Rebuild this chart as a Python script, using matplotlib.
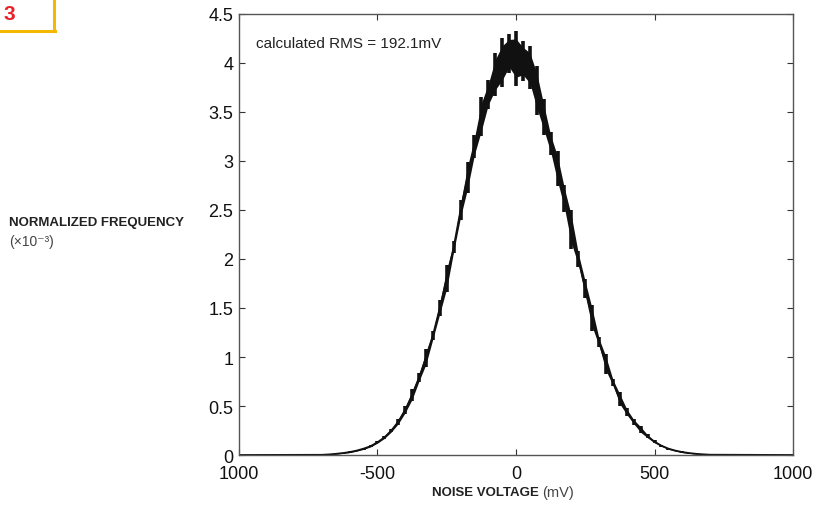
import numpy as np
import matplotlib
matplotlib.use('Agg')
import matplotlib.pyplot as plt

plt.rcParams['font.family'] = ['Liberation Sans', 'DejaVu Sans']

# noise histogram (x in mV, y in 1e-3)
volts = list(range(-700, 725, 25))
freq = [0.002, 0.006, 0.012, 0.02, 0.03, 0.045, 0.065, 0.09, 0.13, 0.18,
        0.25, 0.34, 0.46, 0.61, 0.79, 0.99, 1.22, 1.5, 1.8, 2.12,
        2.5, 2.83, 3.15, 3.45, 3.68, 3.88, 4.0, 4.1, 4.05, 4.02,
        3.95, 3.72, 3.45, 3.18, 2.92, 2.62, 2.3, 2.0, 1.7, 1.4,
        1.15, 0.93, 0.74, 0.57, 0.44, 0.34, 0.26, 0.19, 0.135, 0.095,
        0.065, 0.045, 0.03, 0.02, 0.012, 0.007, 0.003]
# half height of the jagged band around the curve
spread = [0.005, 0.005, 0.005, 0.005, 0.008, 0.008, 0.01, 0.01, 0.012, 0.015,
          0.02, 0.03, 0.04, 0.06, 0.05, 0.09, 0.05, 0.08, 0.14, 0.06,
          0.1, 0.16, 0.12, 0.2, 0.15, 0.22, 0.25, 0.2, 0.28, 0.2,
          0.22, 0.25, 0.18, 0.12, 0.18, 0.14, 0.2, 0.08, 0.1, 0.13,
          0.05, 0.1, 0.04, 0.07, 0.04, 0.03, 0.04, 0.02, 0.015, 0.01,
          0.01, 0.008, 0.008, 0.005, 0.005, 0.005, 0.005]

xticks = [-1000, -500, 0, 500, 1000]
xtick_labels = ['1000', '-500', '0', '500', '1000']
yticks = [0, 0.5, 1, 1.5, 2, 2.5, 3, 3.5, 4, 4.5]
ytick_labels = ['0', '0.5', '1', '1.5', '2', '2.5', '3', '3.5', '4', '4.5']

x = np.array([-1000] + volts + [1000])
y = np.array([0] + freq + [0])
s = np.array([0] + spread + [0])

fig = plt.figure(figsize=(8.21, 5.06), dpi=100)
ax = fig.add_axes([0.2911, 0.0988, 0.6748, 0.8716])

ax.vlines(x, y - s, y + s, color='#111111', lw=2.6)
ax.fill_between(x, y - s * 0.7, y + s * 0.7, color='#111111', lw=0)
ax.plot(x, y, color='#111111', lw=1.3)

ax.set_xlim(-1000, 1000)
ax.set_ylim(0, 4.5)
ax.set_xticks(xticks)
ax.set_xticklabels(xtick_labels)
ax.set_yticks(yticks)
ax.set_yticklabels(ytick_labels)
ax.tick_params(direction='in', length=4, width=0.8, top=True, right=True,
               labelsize=13, color='#333333', labelcolor='#111111')
ax.tick_params(axis='x', pad=7)
ax.tick_params(axis='y', pad=4)
for sp in ax.spines.values():
    sp.set_color('#555555')
    sp.set_linewidth(1.0)

ax.text(-940, 4.16, 'calculated RMS = 192.1mV', fontsize=11, color='#222222')

fig.text(9 / 821, 1 - 223 / 506, 'NORMALIZED FREQUENCY',
         fontweight='bold', fontsize=9.5, color='#222222', va='center')
fig.text(9 / 821, 1 - 242 / 506, '(×10⁻³)', fontsize=10, color='#444444',
         va='center')

fig.text(539 / 821, 1 - 493 / 506, 'NOISE VOLTAGE', ha='right',
         fontweight='bold', fontsize=9.5, color='#222222', va='center')
fig.text(542 / 821, 1 - 493 / 506, '(mV)', fontsize=10.5, color='#444444',
         va='center')

# figure number badge in the corner
fig.text(3 / 821, 1 - 14 / 506, '3', fontsize=15, fontweight='bold',
         color='#e8202a', va='center')
fig.add_artist(plt.Line2D([54 / 821, 54 / 821], [1, 1 - 32 / 506],
                          color='#f5b800', lw=2.2))
fig.add_artist(plt.Line2D([0, 55 / 821], [1 - 32 / 506, 1 - 32 / 506],
                          color='#f5b800', lw=2.2))

fig.savefig('out.png', dpi=100)
